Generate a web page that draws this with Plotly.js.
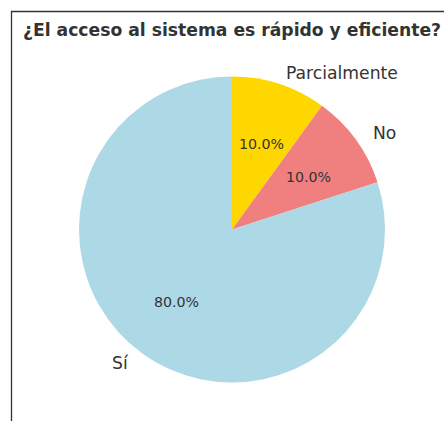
<!DOCTYPE html>
<html>
<head>
<meta charset="utf-8">
<script src="https://cdn.plot.ly/plotly-3.0.1.min.js"></script>
<style>html,body{margin:0;padding:0;background:#fff;}#chart{width:444px;height:421px;}</style>
</head>
<body>
<div id="chart"></div>
<script>
const labels = ["Parcialmente", "No", "Sí"];
const values = [10, 10, 80];
const colors = ["#FFD700", "#F08080", "#ADD8E6"];
const titleText = "¿El acceso al sistema es rápido y eficiente?";

const W = 444, H = 421;
const cx = 232, cy = 229.5, R = 153;
// text placement radii (reference pie is slightly wider than tall)
const RX = 157, RY = 149.5;
const total = values.reduce((a, b) => a + b, 0);

const annotations = [];
let cum = 0;
values.forEach((v, i) => {
  const mid = (cum + v / 2) / total;
  cum += v;
  const ang = (90 - 360 * mid) * Math.PI / 180;
  const c = Math.cos(ang), s = Math.sin(ang);
  const lx = cx + 1.1 * RX * c, ly = cy - 1.1 * RY * s;
  annotations.push({
    text: labels[i], xref: "paper", yref: "paper",
    x: lx / W, y: 1 - ly / H,
    xanchor: c > 0 ? "left" : (c < 0 ? "right" : "center"), yanchor: "middle",
    showarrow: false, borderpad: 0,
    font: {family: "DejaVu Sans", size: 17.2, color: "#333333"}
  });
  const px = cx + 0.6 * RX * c, py = cy - 0.6 * RY * s;
  annotations.push({
    text: (100 * v / total).toFixed(1) + "%", xref: "paper", yref: "paper",
    x: px / W, y: 1 - py / H, xanchor: "center", yanchor: "middle",
    showarrow: false, borderpad: 0,
    font: {family: "DejaVu Sans", size: 14.2, color: "#333333"}
  });
});

const data = [{
  type: "pie",
  labels: labels,
  values: values,
  marker: {colors: colors, line: {width: 0}},
  sort: false,
  direction: "clockwise",
  rotation: 0,
  textinfo: "none",
  hoverinfo: "label+percent",
  showlegend: false,
  domain: {x: [(cx - R) / W, (cx + R) / W], y: [1 - (cy + R) / H, 1 - (cy - R) / H]}
}];

const layout = {
  width: W, height: H,
  margin: {l: 0, r: 0, t: 0, b: 0},
  paper_bgcolor: "#ffffff",
  showlegend: false,
  title: {
    text: "<b>" + titleText + "</b>",
    x: 232 / W, y: 1 - 29.5 / H, xref: "paper", yref: "paper",
    xanchor: "center", yanchor: "middle",
    font: {family: "DejaVu Sans", size: 17.2, color: "#333333"}
  },
  annotations: annotations,
  shapes: [
    {type: "line", xref: "paper", yref: "paper", x0: 11.5 / W, x1: 11.5 / W, y0: 0, y1: 1 - 11 / H,
     line: {color: "#333333", width: 1.3}},
    {type: "line", xref: "paper", yref: "paper", x0: 11 / W, x1: 1, y0: 1 - 11.5 / H, y1: 1 - 11.5 / H,
     line: {color: "#333333", width: 1.3}}
  ]
};

Plotly.newPlot("chart", data, layout, {displayModeBar: false, staticPlot: true});
</script>
</body>
</html>
